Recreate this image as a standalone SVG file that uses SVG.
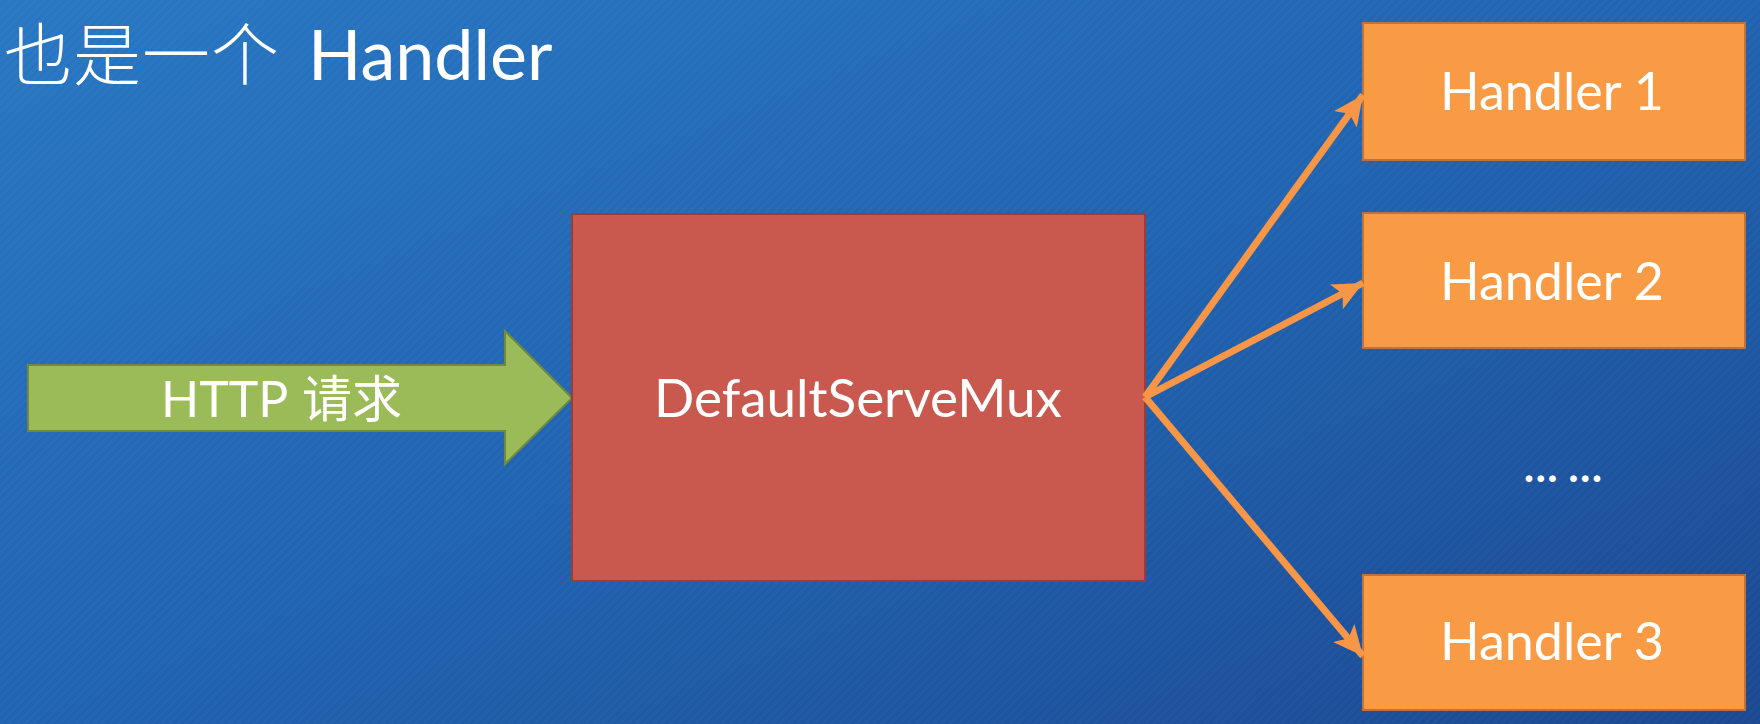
<svg xmlns="http://www.w3.org/2000/svg" width="1760" height="724" viewBox="0 0 1760 724">
  <defs>
    <linearGradient id="bg" x1="0" y1="0" x2="1" y2="1">
      <stop offset="0" stop-color="#2877c3"/>
      <stop offset="0.5" stop-color="#2063b0"/>
      <stop offset="1" stop-color="#1a4891"/>
    </linearGradient>
    <pattern id="stripes" width="6" height="6" patternUnits="userSpaceOnUse" patternTransform="rotate(-45)">
      <rect width="6" height="3" fill="#ffffff" fill-opacity="0.025"/>
    </pattern>
    <marker id="head" markerUnits="userSpaceOnUse" markerWidth="34" markerHeight="30" refX="30" refY="14" orient="auto">
      <path d="M0,0 L30,14 L0,28 L7,14 Z" fill="#f79646"/>
    </marker>
    <style>
      .lat { font-family: Lato, "Noto Sans", "Noto Sans CJK SC", sans-serif; fill: #ffffff; }
      .cjk { font-family: "Noto Sans CJK SC", sans-serif; fill: #ffffff; }
      .handler rect { fill: #f99a45; stroke: #c0723a; stroke-width: 2; }
      .conn { stroke: #f79646; stroke-width: 7; fill: none; }
    </style>
  </defs>
  <rect width="1760" height="724" fill="url(#bg)"/>
  <rect width="1760" height="724" fill="url(#stripes)"/>

  <g id="title">
    <text x="4" y="80" font-size="68" class="cjk" font-weight="300" letter-spacing="1">也是一个</text>
    <text x="308" y="80" font-size="70" class="lat">Handler</text>
  </g>

  <g id="http-request">
    <path d="M28,365 L505,365 L505,331 L572,398 L505,464 L505,431 L28,431 Z" fill="#9bbb59" stroke="#71893f" stroke-width="2"/>
    <text x="161" y="417" font-size="50" class="lat">HTTP</text>
    <text x="302" y="417" font-size="50" class="cjk">请求</text>
  </g>

  <g id="defaultservemux">
    <rect x="572" y="214" width="573" height="367" fill="#c9594e" stroke="#9b3d36" stroke-width="2"/>
    <text x="858" y="417" font-size="53" class="lat" text-anchor="middle">DefaultServeMux</text>
  </g>

  <g id="handler1" class="handler">
    <rect x="1363" y="23" width="382" height="137"/>
    <text x="1552" y="110" font-size="52" class="lat" text-anchor="middle">Handler 1</text>
  </g>
  <g id="handler2" class="handler">
    <rect x="1363" y="213" width="382" height="135"/>
    <text x="1552" y="300" font-size="52" class="lat" text-anchor="middle">Handler 2</text>
  </g>
  <g id="ellipsis">
    <text x="1563" y="482" font-size="44" class="lat" text-anchor="middle" font-weight="bold">… …</text>
  </g>
  <g id="handler3" class="handler">
    <rect x="1363" y="575" width="382" height="135"/>
    <text x="1552" y="660" font-size="52" class="lat" text-anchor="middle">Handler 3</text>
  </g>

  <g id="connectors">
    <line class="conn" x1="1145" y1="397" x2="1363" y2="95" marker-end="url(#head)"/>
    <line class="conn" x1="1145" y1="397" x2="1363" y2="283" marker-end="url(#head)"/>
    <line class="conn" x1="1145" y1="397" x2="1363" y2="656" marker-end="url(#head)"/>
  </g>
</svg>
